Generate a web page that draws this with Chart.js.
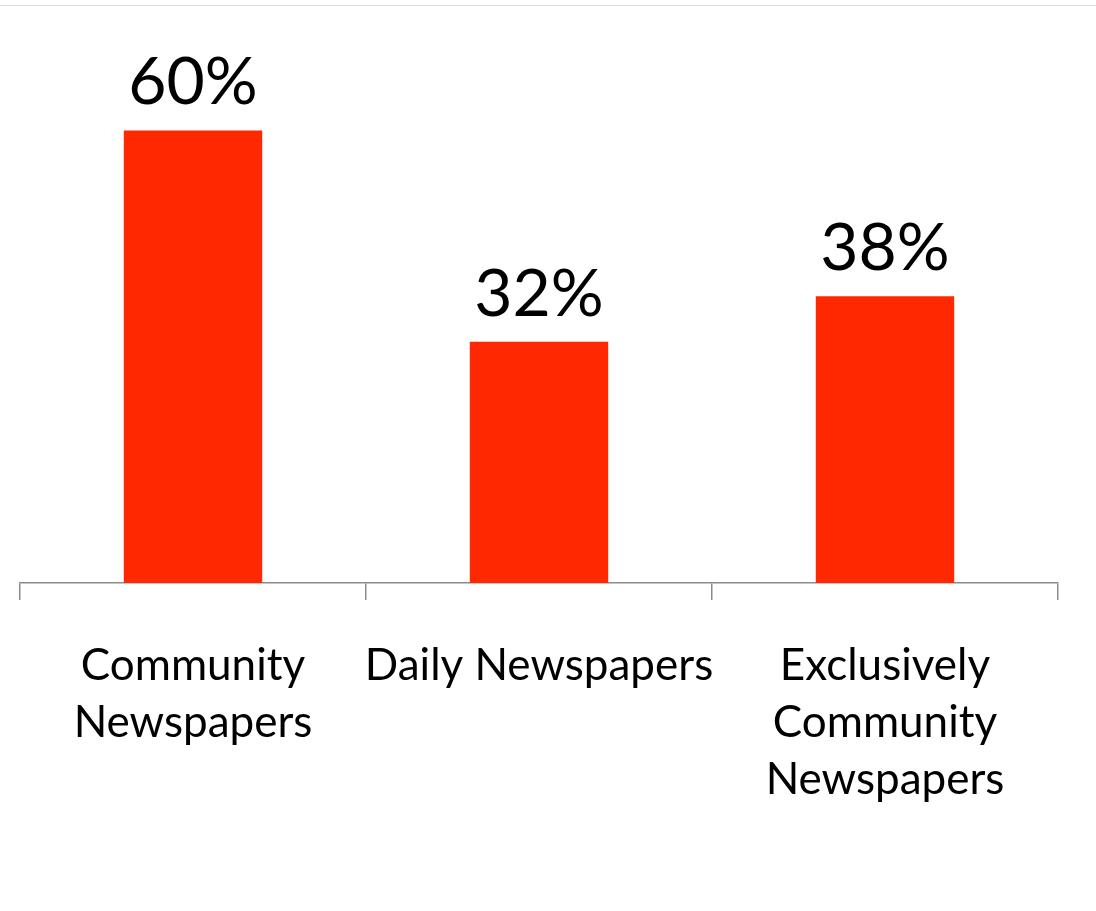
<!DOCTYPE html>
<html>
<head>
<meta charset="utf-8">
<script src="https://cdn.jsdelivr.net/npm/chart.js@4.4.1/dist/chart.umd.min.js"></script>
<style>
  html, body { margin: 0; padding: 0; background: #fff; }
  #wrap { width: 1096px; height: 911px; position: relative; }
  #topline { position: absolute; left: 0; top: 5px; width: 1096px; height: 1px; background: #dcdcdc; }
</style>
</head>
<body>
<div id="wrap">
  <div id="topline"></div>
  <canvas id="readersChart" width="1096" height="911"></canvas>
</div>
<script>
// Share of readers by newspaper type
const categories = [
  ['Community', 'Newspapers'],
  'Daily Newspapers',
  ['Exclusively', 'Community', 'Newspapers']
];
const shares = [60, 32, 38];
const valueLabels = ['60%', '32%', '38%'];

const FONT = 'Lato, "Open Sans", sans-serif';

// draws the percentage above each bar
const barValues = {
  id: 'barValues',
  afterDatasetsDraw(chart) {
    const ctx = chart.ctx;
    const meta = chart.getDatasetMeta(0);
    ctx.save();
    ctx.fillStyle = '#000';
    ctx.font = '66px ' + FONT;
    ctx.textAlign = 'center';
    ctx.textBaseline = 'alphabetic';
    meta.data.forEach((bar, i) => {
      ctx.fillText(valueLabels[i], bar.x, bar.y - 26);
    });
    ctx.restore();
  }
};

const ctx = document.getElementById('readersChart').getContext('2d');
const readersChart = new Chart(ctx, {
  type: 'bar',
  data: {
    labels: categories,
    datasets: [{
      data: shares,
      backgroundColor: '#ff2800',
      borderWidth: 0,
      barPercentage: 0.8,
      categoryPercentage: 0.5
    }]
  },
  options: {
    responsive: false,
    animation: false,
    layout: { padding: { left: 20, right: 38, top: 55, bottom: 0 } },
    plugins: { legend: { display: false }, tooltip: { enabled: false } },
    scales: {
      y: {
        display: false,
        min: 0,
        max: 70
      },
      x: {
        grid: {
          offset: true,
          drawOnChartArea: false,
          drawTicks: true,
          tickLength: 17,
          color: '#8c8c8c',
          lineWidth: 1.5
        },
        border: { display: true, color: '#8c8c8c', width: 1.5 },
        ticks: {
          color: '#000',
          font: { family: FONT, size: 44, lineHeight: 1.3 },
          padding: 37,
          maxRotation: 0,
          autoSkip: false
        },
        afterFit(scale) { scale.height = 328; }
      }
    }
  },
  plugins: [barValues]
});
</script>
</body>
</html>
